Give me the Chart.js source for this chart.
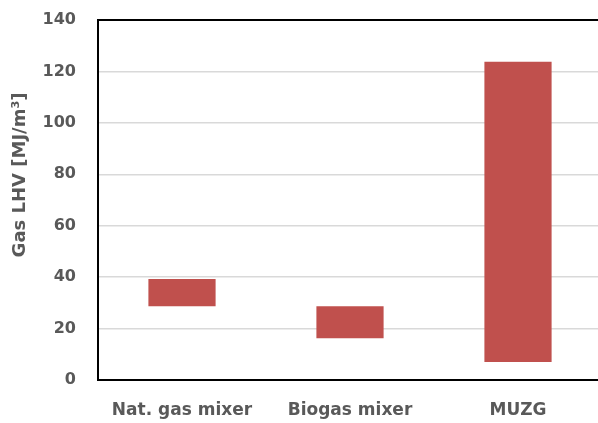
<!DOCTYPE html>
<html>
<head>
<meta charset="utf-8">
<script src="https://cdn.jsdelivr.net/npm/chart.js@4/dist/chart.umd.min.js"></script>
<style>
  html, body { margin: 0; padding: 0; background: #fff; overflow: hidden; }
  #wrap { width: 602px; height: 423px; position: relative; }
</style>
</head>
<body>
<div id="wrap"><canvas id="lhvChart"></canvas></div>
<script>
// Gas LHV ranges per gas type (floating bars: low..high)
const categories = ["Nat. gas mixer", "Biogas mixer", "MUZG"];
const lhvLow = [28.7, 16.2, 7.0];
const lhvHigh = [39.3, 28.7, 123.8];
const yTicks = [0, 20, 40, 60, 80, 100, 120, 140];

const labelColor = "#595959";
const fontFamily = "'DejaVu Sans', sans-serif";

const canvas = document.getElementById("lhvChart");
new Chart(canvas, {
  type: "bar",
  data: {
    labels: categories,
    datasets: [{
      label: "Gas LHV",
      data: categories.map((c, i) => [lhvLow[i], lhvHigh[i]]),
      backgroundColor: "#c0504d",
      borderWidth: 0,
      barPercentage: 0.4,
      categoryPercentage: 1,
    }],
  },
  options: {
    responsive: true,
    maintainAspectRatio: false,
    animation: false,
    layout: { padding: { top: 20, left: 0, right: 0, bottom: 0 } },
    plugins: {
      legend: { display: false },
      tooltip: { enabled: false },
    },
    scales: {
      x: {
        grid: { display: false, drawTicks: false },
        border: { color: "#000", width: 2 },
        ticks: {
          color: labelColor,
          padding: 20,
          maxRotation: 0,
          font: { family: fontFamily, size: 17, weight: "bold" },
        },
        afterFit: (scale) => {
          scale.height = 43;
          scale.paddingLeft = 0;
          scale.paddingRight = 0;
        },
      },
      y: {
        min: 0,
        max: 140,
        afterBuildTicks: (axis) => { axis.ticks = yTicks.map((v) => ({ value: v })); },
        grid: {
          drawTicks: false,
          color: (ctx) => (ctx.tick && ctx.tick.value === 140 ? "#000" : "#d9d9d9"),
          lineWidth: (ctx) => (ctx.tick && ctx.tick.value === 140 ? 2 : 1.5),
        },
        border: { color: "#000", width: 2 },
        ticks: {
          color: labelColor,
          padding: 22,
          font: { family: fontFamily, size: 16, weight: "bold" },
        },
        title: {
          display: true,
          text: "\u00a0".repeat(8) + "Gas LHV [MJ/m³]",
          color: labelColor,
          padding: { top: 10, bottom: 0 },
          font: { family: fontFamily, size: 18, weight: "bold" },
        },
        afterFit: (scale) => {
          scale.width = 98;
          scale.paddingTop = 0;
          scale.paddingBottom = 0;
        },
      },
    },
  },
});
</script>
</body>
</html>
